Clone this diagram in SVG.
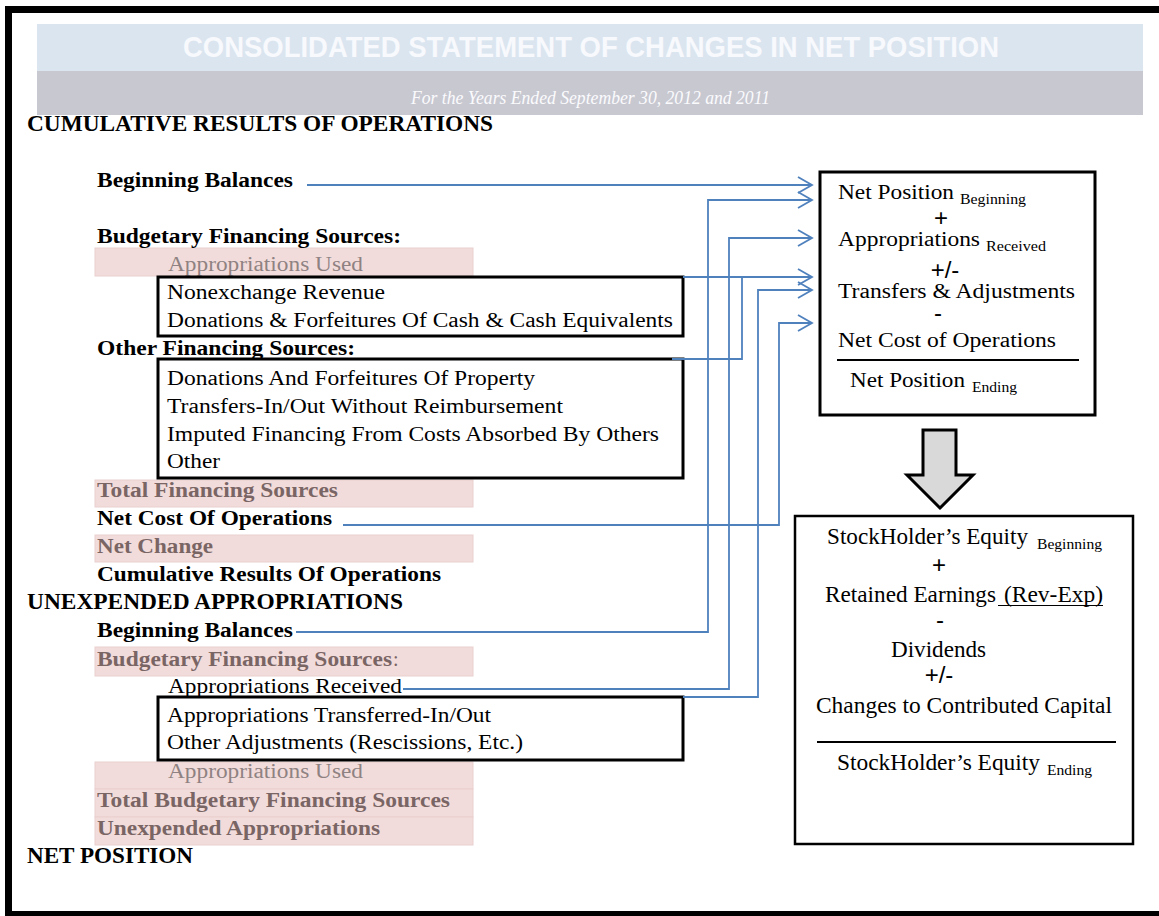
<svg xmlns="http://www.w3.org/2000/svg" width="1159" height="916" viewBox="0 0 1159 916">
<defs>
<style>
.b{font-family:"Liberation Serif","Times New Roman",serif;font-weight:bold;font-size:20px;fill:#000}
.h{font-family:"Liberation Serif","Times New Roman",serif;font-weight:bold;font-size:23px;fill:#000}
.r{font-family:"Liberation Serif","Times New Roman",serif;font-size:20px;fill:#000}
.r2{font-family:"Liberation Serif","Times New Roman",serif;font-size:23px;fill:#000}
.s{font-family:"Liberation Serif","Times New Roman",serif;font-size:14px;fill:#000}
.op{font-family:"Liberation Sans",Arial,sans-serif;font-size:24px;fill:#000;text-anchor:middle}
.g{fill:#7a6565}
.gl{fill:#8f8282}
.band{fill:#f2dcdb;stroke:#ead0cf;stroke-width:1}
.box{fill:#fff;stroke:#000;stroke-width:3}
.conn{fill:none;stroke:#4f81bd;stroke-width:1.8}
</style>
<marker id="chev" markerUnits="userSpaceOnUse" markerWidth="18" markerHeight="20" refX="15" refY="9" orient="auto" viewBox="0 0 18 20">
<path d="M1,1 L15,9 L1,17" fill="none" stroke="#4f81bd" stroke-width="1.8"/>
</marker>
</defs>
<rect x="0" y="0" width="1159" height="916" fill="#fff"/>
<rect x="8.5" y="9.5" width="1200" height="905" fill="none" stroke="#000" stroke-width="7"/>

<g id="banner">
<rect x="37" y="24" width="1106" height="47" fill="#dbe5f0"/>
<rect x="37" y="71" width="1106" height="44" fill="#c8c8d1"/>
<text x="183" y="57" textLength="816" lengthAdjust="spacingAndGlyphs" style="font-family:'Liberation Sans',Arial,sans-serif;font-weight:bold;font-size:30px;fill:#f7f9fc">CONSOLIDATED STATEMENT OF CHANGES IN NET POSITION</text>
<text x="411" y="104" textLength="359" lengthAdjust="spacingAndGlyphs" style="font-family:'Liberation Serif','Times New Roman',serif;font-style:italic;font-size:19px;fill:#fbfbfd">For the Years Ended September 30, 2012 and 2011</text>
</g>

<g id="bands">
<rect class="band" x="95" y="248" width="378" height="28"/>
<rect class="band" x="95" y="480" width="378" height="27"/>
<rect class="band" x="95" y="535" width="378" height="27"/>
<rect class="band" x="95" y="647" width="378" height="29"/>
<rect class="band" x="95" y="762" width="378" height="27"/>
<rect class="band" x="95" y="789" width="378" height="28"/>
<rect class="band" x="95" y="817" width="378" height="28"/>
</g>

<g id="cro-heading"><text class="h" x="27" y="131" textLength="466" lengthAdjust="spacingAndGlyphs">CUMULATIVE RESULTS OF OPERATIONS</text></g>
<g id="cro-beginning"><text class="b" x="97" y="187" textLength="196" lengthAdjust="spacingAndGlyphs">Beginning Balances</text></g>
<g id="cro-budgetary"><text class="b" x="97" y="243" textLength="304" lengthAdjust="spacingAndGlyphs">Budgetary Financing Sources:</text></g>
<g id="cro-approp-used"><text class="r gl" x="168" y="271" textLength="195" lengthAdjust="spacingAndGlyphs">Appropriations Used</text></g>
<g id="box-nonexchange">
<rect class="box" x="158" y="277" width="525" height="59"/>
<text class="r" x="167" y="299" textLength="218" lengthAdjust="spacingAndGlyphs">Nonexchange Revenue</text>
<text class="r" x="167" y="327" textLength="506" lengthAdjust="spacingAndGlyphs">Donations &amp; Forfeitures Of Cash &amp; Cash Equivalents</text>
</g>
<g id="cro-other"><text class="b" x="97" y="355" textLength="258" lengthAdjust="spacingAndGlyphs">Other Financing Sources:</text></g>
<g id="box-other">
<rect class="box" x="158" y="359" width="525" height="119"/>
<text class="r" x="167" y="385" textLength="368" lengthAdjust="spacingAndGlyphs">Donations And Forfeitures Of Property</text>
<text class="r" x="167" y="413" textLength="396" lengthAdjust="spacingAndGlyphs">Transfers-In/Out Without Reimbursement</text>
<text class="r" x="167" y="441" textLength="492" lengthAdjust="spacingAndGlyphs">Imputed Financing From Costs Absorbed By Others</text>
<text class="r" x="167" y="468" textLength="53" lengthAdjust="spacingAndGlyphs">Other</text>
</g>
<g id="cro-total"><text class="b g" x="97" y="497" textLength="241" lengthAdjust="spacingAndGlyphs">Total Financing Sources</text></g>
<g id="cro-netcost"><text class="b" x="97" y="525" textLength="235" lengthAdjust="spacingAndGlyphs">Net Cost Of Operations</text></g>
<g id="cro-netchange"><text class="b g" x="97" y="553" textLength="116" lengthAdjust="spacingAndGlyphs">Net Change</text></g>
<g id="cro-cumulative"><text class="b" x="97" y="581" textLength="344" lengthAdjust="spacingAndGlyphs">Cumulative Results Of Operations</text></g>

<g id="ua-heading"><text class="h" x="27" y="609" textLength="376" lengthAdjust="spacingAndGlyphs">UNEXPENDED APPROPRIATIONS</text></g>
<g id="ua-beginning"><text class="b" x="97" y="637" textLength="196" lengthAdjust="spacingAndGlyphs">Beginning Balances</text></g>
<g id="ua-budgetary">
<text class="b g" x="97" y="666" textLength="295" lengthAdjust="spacingAndGlyphs">Budgetary Financing Sources</text>
<text class="r g" x="393" y="666">:</text>
</g>
<g id="ua-approp-received"><text class="r" x="168" y="693" textLength="234" lengthAdjust="spacingAndGlyphs">Appropriations Received</text></g>
<g id="box-transferred">
<rect class="box" x="158" y="697" width="525" height="63"/>
<text class="r" x="167" y="722" textLength="324" lengthAdjust="spacingAndGlyphs">Appropriations Transferred-In/Out</text>
<text class="r" x="167" y="749" textLength="356" lengthAdjust="spacingAndGlyphs">Other Adjustments (Rescissions, Etc.)</text>
</g>
<g id="ua-approp-used"><text class="r gl" x="168" y="778" textLength="195" lengthAdjust="spacingAndGlyphs">Appropriations Used</text></g>
<g id="ua-total"><text class="b g" x="97" y="807" textLength="353" lengthAdjust="spacingAndGlyphs">Total Budgetary Financing Sources</text></g>
<g id="ua-unexpended"><text class="b g" x="97" y="835" textLength="283" lengthAdjust="spacingAndGlyphs">Unexpended Appropriations</text></g>
<g id="net-position"><text class="h" x="27" y="863" textLength="166" lengthAdjust="spacingAndGlyphs">NET POSITION</text></g>

<g id="connectors">
<path class="conn" d="M307,185 H812" marker-end="url(#chev)"/>
<path class="conn" d="M296,632 H708 V200 H812" marker-end="url(#chev)"/>
<path class="conn" d="M403,689 H729 V238 H812" marker-end="url(#chev)"/>
<path class="conn" d="M683,277 H812" marker-end="url(#chev)"/>
<path class="conn" d="M672,359 H742 V277"/>
<path class="conn" d="M683,697 H758 V290 H812" marker-end="url(#chev)"/>
<path class="conn" d="M343,525 H779 V323 H812" marker-end="url(#chev)"/>
</g>

<g id="net-position-box">
<rect class="box" x="820" y="172" width="275" height="243"/>
<text class="r" x="838" y="199" textLength="116" lengthAdjust="spacingAndGlyphs">Net Position</text>
<text class="s" x="960" y="204" textLength="66" lengthAdjust="spacingAndGlyphs">Beginning</text>
<text class="op" x="941" y="226">+</text>
<text class="r" x="838" y="246" textLength="142" lengthAdjust="spacingAndGlyphs">Appropriations</text>
<text class="s" x="986" y="251" textLength="60" lengthAdjust="spacingAndGlyphs">Received</text>
<text class="op" x="945" y="278">+/-</text>
<text class="r" x="838" y="298" textLength="237" lengthAdjust="spacingAndGlyphs">Transfers &amp; Adjustments</text>
<text class="op" x="938" y="321">-</text>
<text class="r" x="838" y="347" textLength="218" lengthAdjust="spacingAndGlyphs">Net Cost of Operations</text>
<line x1="837" y1="360" x2="1079" y2="360" stroke="#000" stroke-width="2"/>
<text class="r" x="850" y="387" textLength="115" lengthAdjust="spacingAndGlyphs">Net Position</text>
<text class="s" x="972" y="392" textLength="45" lengthAdjust="spacingAndGlyphs">Ending</text>
</g>

<g id="down-arrow">
<polygon points="923,430 956,430 956,475 973,475 940,508 907,475 923,475" fill="#d9d9d9" stroke="#000" stroke-width="3" stroke-linejoin="miter"/>
</g>

<g id="equity-box">
<rect x="795" y="516" width="338" height="328" fill="#fff" stroke="#000" stroke-width="2.5"/>
<text class="r2" x="827" y="544" textLength="201" lengthAdjust="spacingAndGlyphs">StockHolder’s Equity</text>
<text class="s" x="1037" y="549" textLength="65" lengthAdjust="spacingAndGlyphs">Beginning</text>
<text class="op" x="939" y="573">+</text>
<text class="r2" x="825" y="602" textLength="171" lengthAdjust="spacingAndGlyphs">Retained Earnings</text>
<text class="r2" x="1004" y="602" textLength="99" lengthAdjust="spacingAndGlyphs">(Rev-Exp)</text>
<line x1="998" y1="605.5" x2="1103" y2="605.5" stroke="#000" stroke-width="1.2"/>
<text class="op" x="940" y="628">-</text>
<text class="r2" x="891" y="657" textLength="95" lengthAdjust="spacingAndGlyphs">Dividends</text>
<text class="op" x="939" y="683">+/-</text>
<text class="r2" x="816" y="713" textLength="296" lengthAdjust="spacingAndGlyphs">Changes to Contributed Capital</text>
<line x1="817" y1="742" x2="1116" y2="742" stroke="#000" stroke-width="2"/>
<text class="r2" x="837" y="770" textLength="203" lengthAdjust="spacingAndGlyphs">StockHolder’s Equity</text>
<text class="s" x="1047" y="775" textLength="45" lengthAdjust="spacingAndGlyphs">Ending</text>
</g>
</svg>
